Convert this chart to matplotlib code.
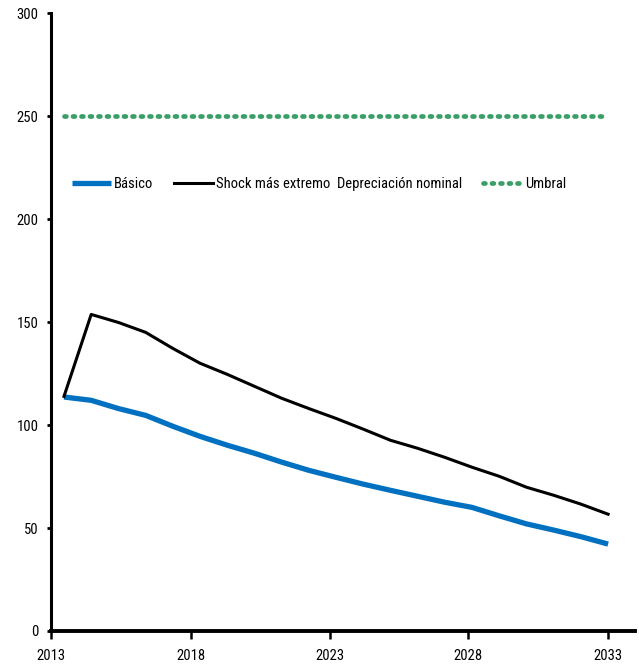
import matplotlib
matplotlib.use("Agg")
import matplotlib.pyplot as plt
from matplotlib import font_manager as fm

# pick a narrow / condensed sans font if available
cands = []
for f in fm.fontManager.ttflist:
    st = str(f.stretch).lower()
    nm = f.name.lower()
    w = f.weight
    regular = (w in (400, 'normal', 'regular', 'book')) and f.style == 'normal'
    if regular and ('narrow' in nm or 'condensed' in nm or st in ('condensed', 'semi-condensed')):
        cands.append(f)
pref = ['liberation sans narrow', 'arial narrow', 'roboto condensed', 'open sans', 'noto sans', 'dejavu sans']
chosen = None
for p in pref:
    for f in cands:
        if f.name.lower().startswith(p) and 'mono' not in f.name.lower() and 'serif' not in f.name.lower():
            chosen = f
            break
    if chosen:
        break
if chosen is not None:
    fp = fm.FontProperties(fname=chosen.fname)
else:
    fp = fm.FontProperties(family='Liberation Sans')

years = list(range(2013, 2034))
basico = [113.6, 112.0, 108.0, 104.7, 99.4, 94.5, 90.2, 86.3, 82.0, 78.0, 74.6,
          71.3, 68.3, 65.4, 62.5, 60.0, 55.9, 52.0, 49.0, 45.8, 42.2]
shock = [113.9, 153.7, 149.8, 145.0, 137.2, 130.0, 124.6, 118.8, 113.0, 108.0, 103.2,
         98.0, 92.6, 88.7, 84.3, 79.5, 75.1, 69.8, 65.9, 61.6, 56.7]
umbral = [250] * len(years)
tick_labels = ['2013', '2018', '2023', '2028', '2033']
labels = ['Básico', 'Shock más extremo  Depreciación nominal', 'Umbral']

fig = plt.figure(figsize=(6.39, 6.64), dpi=100)
ax = fig.add_axes([0.0798, 0.0497, 0.914, 0.9306])

x = list(range(len(years)))
ax.plot(x, basico, color='#0070C0', lw=3.8, solid_capstyle='butt', label=labels[0])
ax.plot(x, shock, color='black', lw=2.2, label=labels[1])
ax.plot(x, umbral, color='#3A9F66', lw=3.4, linestyle=(0, (0.4, 1.4)),
        dash_capstyle='round', label=labels[2])

ax.set_ylim(0, 300)
ax.set_xlim(-0.478, 20.99)
ax.set_yticks([0, 50, 100, 150, 200, 250, 300])
ax.set_xticks([-0.478, 4.67, 9.78, 14.85, 20.0])
ax.set_xticklabels(tick_labels)
for s in ['top', 'right']:
    ax.spines[s].set_visible(False)
ax.spines['left'].set_linewidth(2.2)
ax.spines['bottom'].set_linewidth(2.8)
ax.tick_params(axis='y', length=3, width=2, pad=6)
ax.tick_params(axis='x', length=6, width=1.8, pad=7)
fs = 10.5
for lab in ax.get_xticklabels() + ax.get_yticklabels():
    lab.set_fontproperties(fp)
    lab.set_fontsize(fs)

lp = fp.copy()
lp.set_size(fs)
leg = ax.legend(loc='center left', bbox_to_anchor=(0.026, 0.724), ncol=3, frameon=False,
                prop=lp, handlelength=2.7, handletextpad=0.2, columnspacing=1.4,
                borderaxespad=0)

fig.savefig('out.png', dpi=100)
